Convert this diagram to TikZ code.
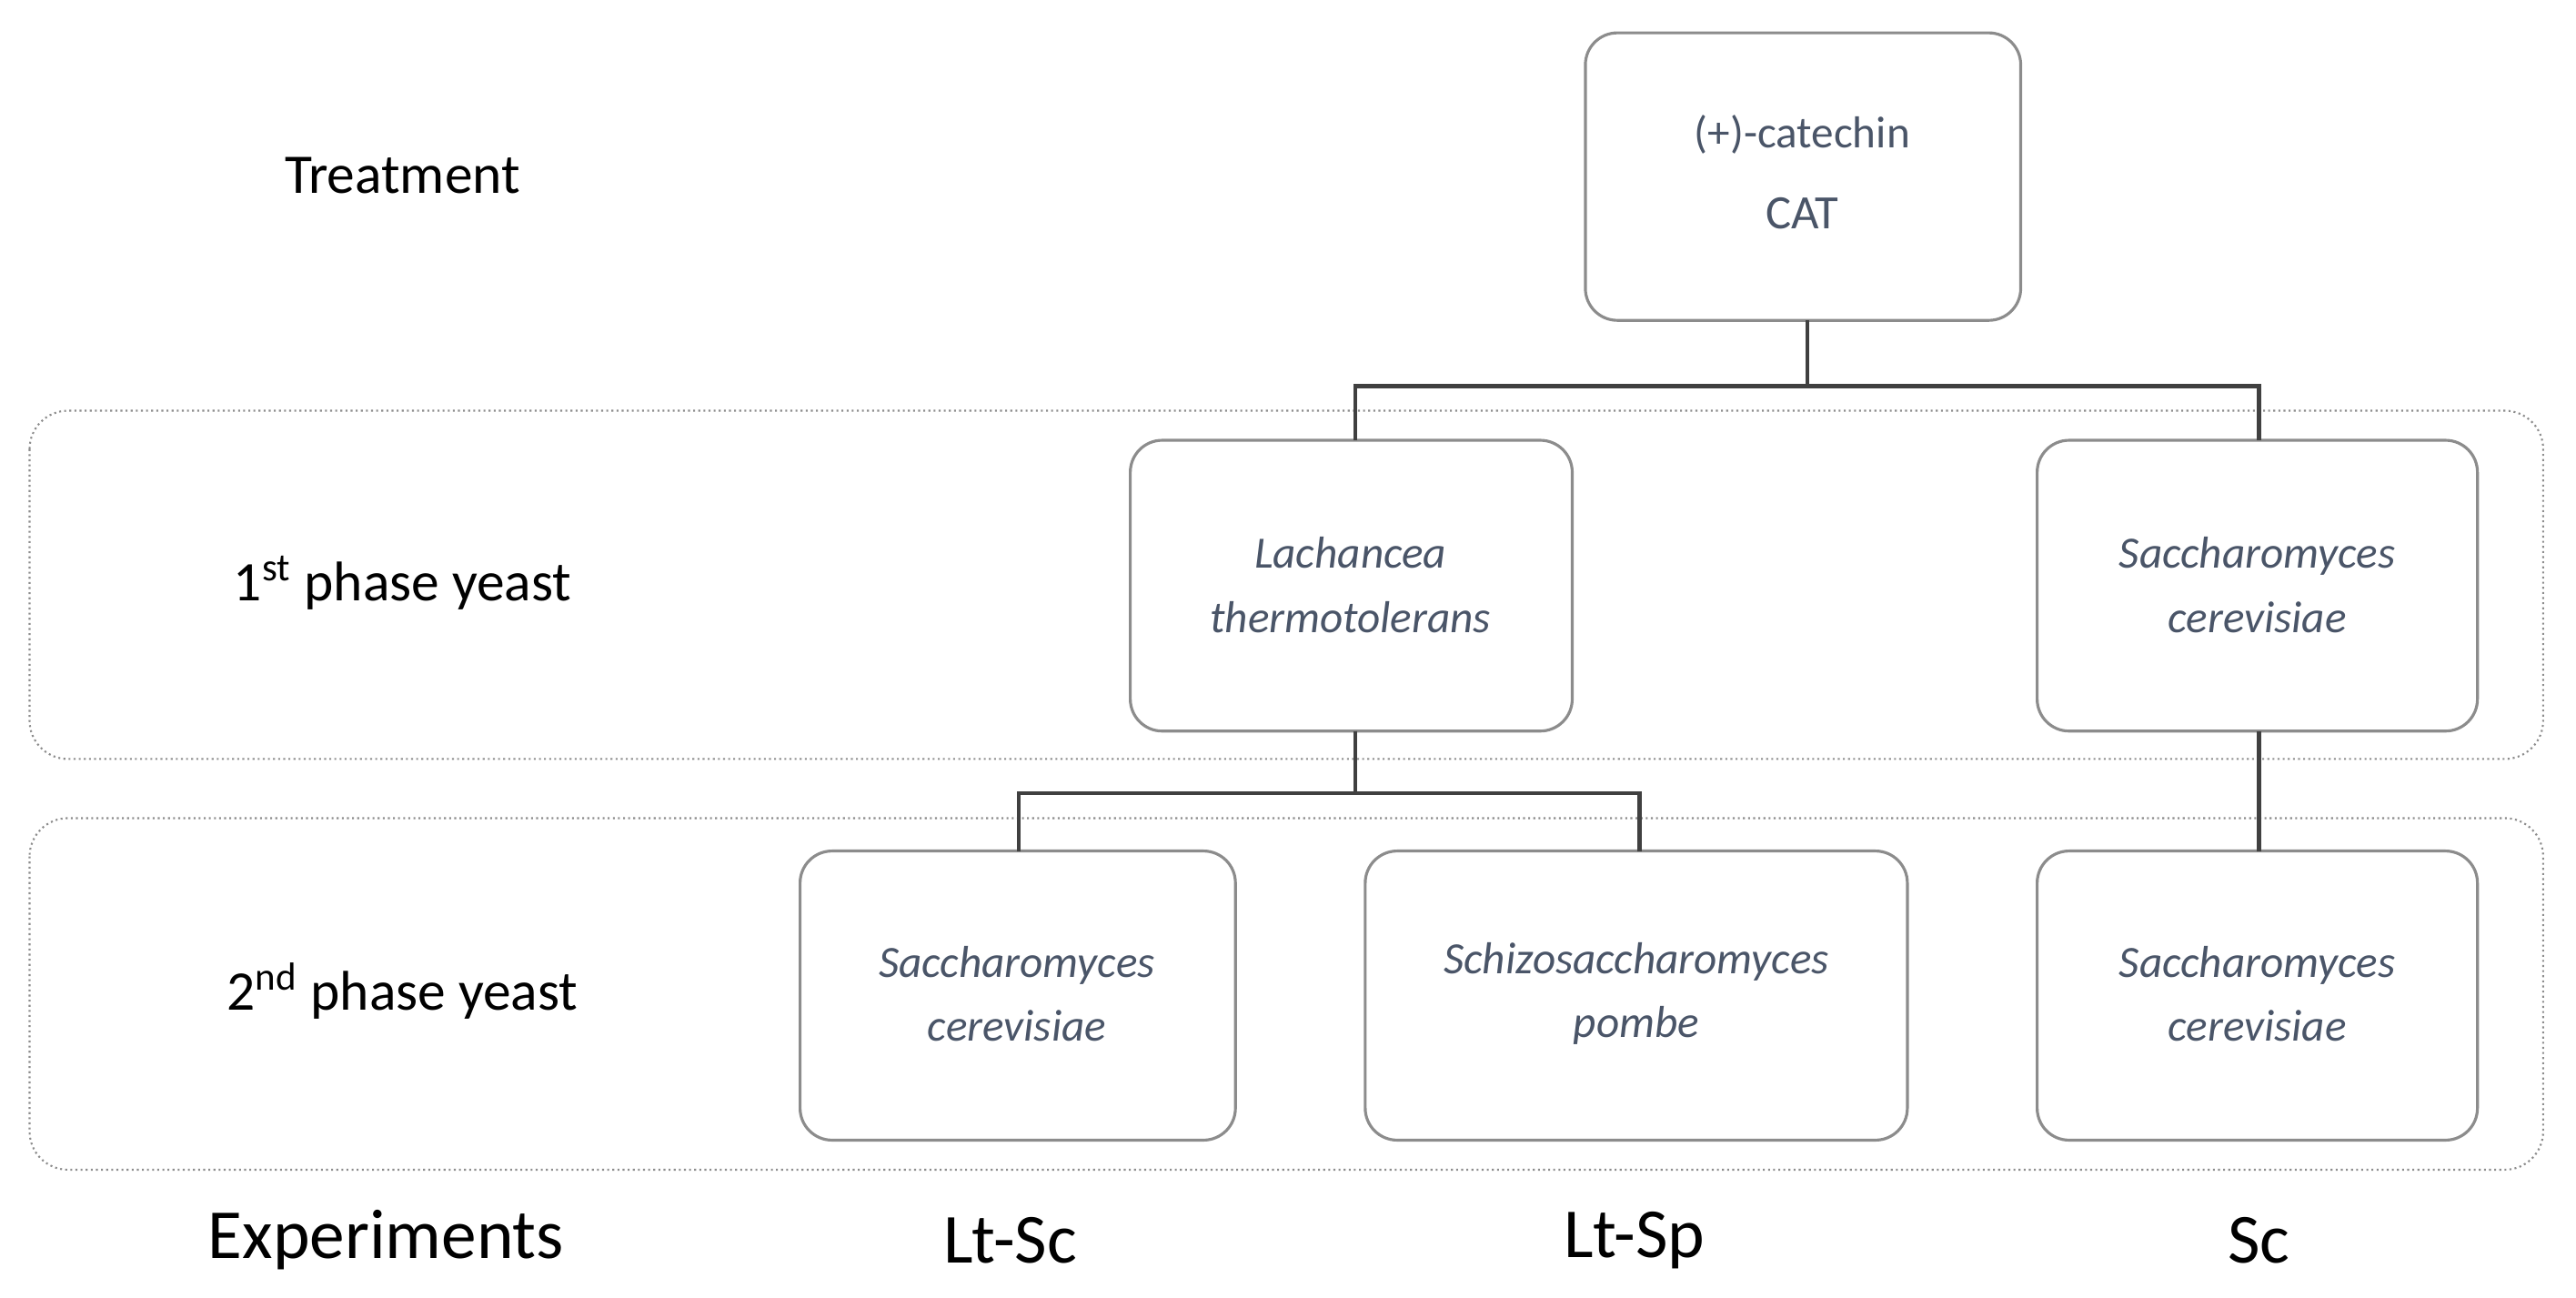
\documentclass[tikz,border=0pt]{standalone}
\usepackage{fontspec}
\setmainfont{Carlito}
\usetikzlibrary{calc}
\definecolor{boxtext}{HTML}{4A5568}
\definecolor{boxline}{HTML}{8C8C8C}
\begin{document}
\begin{tikzpicture}[x=0.01806cm,y=-0.01806cm,
  box/.style={draw=boxline,line width=0.9pt,rounded corners=10pt,anchor=north west},
  sp/.style={text=boxtext,font=\fontsize{14}{20}\selectfont\itshape,align=center},
  lab/.style={font=\fontsize{17.5}{21}\selectfont},
  exp/.style={font=\fontsize{22}{26}\selectfont},
  band/.style={draw=boxline,densely dotted,line width=0.6pt,rounded corners=12pt},
  con/.style={draw=black!75,line width=1.2pt}]
\useasboundingbox (0,0) rectangle (1568,790);
% bands
\draw[band] (18,250) rectangle (1548,462);
\draw[band] (18,498) rectangle (1548,712);
% labels
\node[lab] (t) at (245,107) {Treatment};
\node[lab] (p1) at (245,355) {1\textsuperscript{st} phase yeast};
\node[lab] (p2) at (245,603) {2\textsuperscript{nd} phase yeast};
\node[exp] (e0) at (235,755) {Experiments};
\node[exp] (e1) at (615,755) {Lt-Sc};
\node[exp] (e2) at (995,755) {Lt-Sp};
\node[exp] (e3) at (1375,755) {Sc};
% boxes
\draw[box] (965,20) rectangle (1230,195);
\node[sp,font=\fontsize{14}{20}\selectfont] (cat1) at (1097,82) {(+)-catechin};
\node[sp,font=\fontsize{15}{20}\selectfont] (cat2) at (1097,130) {CAT};
\coordinate (catb) at (1100,195);
\draw[box] (688,268) rectangle (957,445);
\node[sp] (lt) at (822,356) {Lachancea\\thermotolerans};
\draw[box] (1240,268) rectangle (1508,445);
\node[sp] (sc1) at (1374,356) {Saccharomyces\\cerevisiae};
\draw[box] (487,518) rectangle (752,694);
\node[sp] (sc2) at (619,605) {Saccharomyces\\cerevisiae};
\draw[box] (831,518) rectangle (1161,694);
\node[sp] (spb) at (996,605) {Schizosaccharomyces\\pombe};
\draw[box] (1240,518) rectangle (1508,694);
\node[sp] (sc3) at (1374,605) {Saccharomyces\\cerevisiae};
% connectors
\draw[con] (catb) -- (1100,235) -| (825,268);
\draw[con] (1100,235) -| (1375,268);
\draw[con] (825,445) -- (825,483) -| (620,518);
\draw[con] (825,483) -| (998,518);
\draw[con] (1375,445) -- (1375,518);
\end{tikzpicture}
\end{document}
